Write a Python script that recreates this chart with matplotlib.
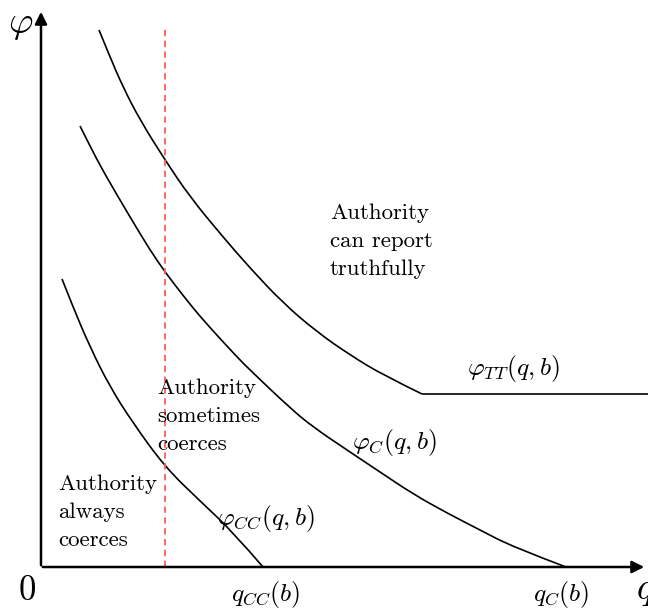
import numpy as np
import matplotlib
matplotlib.use("Agg")
import matplotlib.pyplot as plt
from matplotlib.path import Path
from matplotlib.patches import PathPatch

plt.rcParams["font.family"] = "serif"
plt.rcParams["font.serif"] = ["cmr10", "DejaVu Serif"]
plt.rcParams["mathtext.fontset"] = "cm"
plt.rcParams["axes.unicode_minus"] = False

# curves (q, phi), origin at the axes corner
tt_q = [58, 69, 82, 99, 124, 149, 182, 209, 242, 276, 309, 342, 381]
tt_phi = [537, 510, 480, 447, 407, 370, 330, 299, 264, 235, 212, 192, 173]
tt_flat_end = 607

c_q = [39, 49, 62, 89, 109, 124, 144, 162, 196, 209, 249, 272, 306, 339,
       372, 406, 439, 472, 525]
c_phi = [441, 421, 396, 350, 317, 295, 269, 247, 210, 197, 159, 140, 117, 95,
         73, 54, 37, 20, 0]

cc_q = [21, 32, 49, 69, 92, 124, 159, 192, 222]
cc_phi = [288, 260, 220, 180, 144, 100, 66, 35, 0]

q_bar = 124
q_cc = 225
q_c = 520


def smooth_path(xs, ys):
    # quadratic bezier through midpoints, read points act as control points
    pts = np.column_stack([xs, ys]).astype(float)
    verts = [pts[0]]
    codes = [Path.MOVETO]
    for i in range(1, len(pts) - 1):
        mid = (pts[i] + pts[i + 1]) / 2
        if i == len(pts) - 2:
            mid = pts[i + 1]
        verts += [pts[i], mid]
        codes += [Path.CURVE3, Path.CURVE3]
    return Path(verts, codes)


fig = plt.figure(figsize=(6.48, 6.12), dpi=100)
ax = fig.add_axes([0, 0, 1, 1])
ax.set_xlim(-41, 607)
ax.set_ylim(-45, 567)
ax.axis("off")

for xs, ys in [(tt_q, tt_phi), (c_q, c_phi), (cc_q, cc_phi)]:
    ax.add_patch(PathPatch(smooth_path(xs, ys), fill=False, edgecolor="black",
                           lw=1.2))
ax.plot([tt_q[-1], tt_flat_end], [tt_phi[-1], tt_phi[-1]], color="black",
        lw=1.2, solid_capstyle="butt")

ax.plot([q_bar, q_bar], [0, 538], color="#ff5a5a", lw=1.3, ls=(0, (3.5, 2.5)))

arrow = dict(arrowstyle="-|>", lw=1.8, color="black", mutation_scale=18)
ax.annotate("", xy=(0, 558), xytext=(0, -1), arrowprops=arrow,
            annotation_clip=False)
ax.annotate("", xy=(606, 0), xytext=(-1, 0), arrowprops=arrow,
            annotation_clip=False)

fs = 16.5
ms = 18.5
ax.text(289, 326, "Authority\ncan report\ntruthfully", fontsize=fs,
        ha="left", va="center", linespacing=1.55)
ax.text(116, 151, "Authority\nsometimes\ncoerces", fontsize=fs,
        ha="left", va="center", linespacing=1.55)
ax.text(17, 55, "Authority\nalways\ncoerces", fontsize=fs,
        ha="left", va="center", linespacing=1.55)

ax.text(426, 199, r"$\varphi_{TT}(q,b)$", fontsize=ms, ha="left", va="center")
ax.text(311, 124, r"$\varphi_{C}(q,b)$", fontsize=ms, ha="left", va="center")
ax.text(176, 49, r"$\varphi_{CC}(q,b)$", fontsize=ms, ha="left", va="center")

ax.text(q_cc, -27, r"$q_{CC}(b)$", fontsize=ms, ha="center", va="center")
ax.text(q_c, -27, r"$q_{C}(b)$", fontsize=ms, ha="center", va="center")
ax.text(-14, -24, r"$0$", fontsize=25, ha="center", va="center")
ax.text(604, -24, r"$q$", fontsize=27, ha="center", va="center")
ax.text(-20, 542, r"$\varphi$", fontsize=27, ha="center", va="center")

fig.savefig("out.png", dpi=100)
